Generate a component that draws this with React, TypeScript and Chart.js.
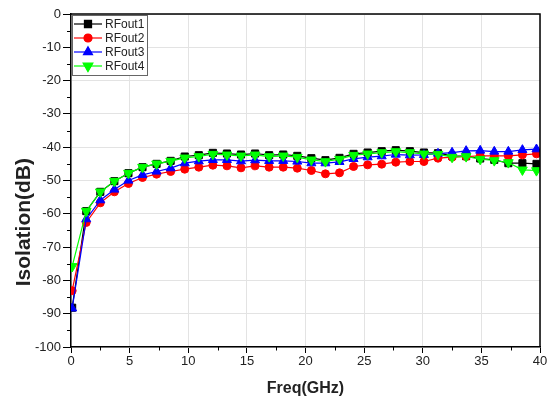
import React, { useEffect, useRef } from "react";
import { Chart, registerables } from "chart.js";
import { drawPoint } from "chart.js/helpers";

Chart.register(...registerables);

const freqGHz = [0.1, 1.3, 2.5, 3.7, 4.9, 6.1, 7.3, 8.5, 9.7, 10.9, 12.1, 13.3, 14.5, 15.7, 16.9, 18.1, 19.3, 20.5, 21.7, 22.9, 24.1, 25.3, 26.5, 27.7, 28.9, 30.1, 31.3, 32.5, 33.7, 34.9, 36.1, 37.3, 38.5, 39.7];

const rfout1 = [-88.2, -59.2, -53.4, -50.2, -47.8, -46, -45, -44.1, -42.8, -42.4, -41.7, -41.9, -42.2, -41.9, -42.4, -42.2, -42.6, -43.3, -43.9, -43.2, -42.0, -41.6, -41.2, -40.9, -41.2, -41.6, -41.8, -42.6, -42.7, -43.4, -43.8, -44.8, -44.8, -45];
const rfout2 = [-83.1, -62.6, -56.7, -53.4, -50.9, -49.1, -48.1, -47.3, -46.6, -46, -45.4, -45.6, -46.2, -45.6, -46, -46, -46.3, -47, -48, -47.7, -45.8, -45.3, -45.1, -44.5, -44.3, -44.3, -43.3, -43, -42.8, -42.6, -42.6, -42.6, -42.3, -42];
const rfout3 = [-88.4, -61.6, -55.9, -52.7, -50, -48.3, -47.3, -46.3, -44.8, -44.2, -43.8, -43.8, -44.2, -43.9, -44.1, -44.1, -44.3, -44.8, -44.8, -44.4, -43.5, -43, -42.7, -42.2, -42.4, -42.3, -41.9, -41.6, -41.1, -41, -41.3, -41.3, -40.8, -40.6];
const rfout4 = [-75.8, -59.2, -53.4, -50.2, -47.8, -46, -45, -44.2, -43.2, -42.8, -42.1, -42.3, -42.6, -42.3, -42.8, -42.6, -43, -43.8, -44.3, -43.6, -42.4, -42, -41.6, -41.3, -41.6, -42, -42.1, -43, -42.8, -43.6, -44, -44.6, -46.8, -47];

const seriesNames = ["RFout1", "RFout2", "RFout3", "RFout4"];
const seriesColors = ["#000000", "#ff0000", "#0000ff", "#00ff00"];
const seriesStyles = ["rect", "circle", "triangle", "triangle"];
const seriesRotation = [0, 0, 0, 180];
const seriesRadius = [5, 4, 5.2, 5.6];

const xMinorTicks = [2.5, 7.5, 12.5, 17.5, 22.5, 27.5, 32.5, 37.5];
const yMinorTicks = [-95, -85, -75, -65, -55, -45, -35, -25, -15, -5];

const FONT = "'Liberation Sans', Arial, sans-serif";

export default function App() {
  const ref = useRef<HTMLCanvasElement>(null);

  useEffect(() => {
    const canvas = ref.current;
    if (!canvas) return;
    const all = [rfout1, rfout2, rfout3, rfout4];

    const framePlugin = {
      id: "frameAndExtras",
      afterDatasetsDraw(chart: any) {
        const { ctx, chartArea, scales } = chart;
        ctx.save();
        ctx.strokeStyle = "#000";
        ctx.lineWidth = 1.5;
        ctx.beginPath();
        ctx.moveTo(chartArea.left, chartArea.top);
        ctx.lineTo(chartArea.right, chartArea.top);
        ctx.lineTo(chartArea.right, chartArea.bottom);
        ctx.stroke();
        ctx.lineWidth = 1;
        ctx.beginPath();
        xMinorTicks.forEach((v) => {
          const px = Math.round(scales.x.getPixelForValue(v)) + 0.5;
          ctx.moveTo(px, chartArea.bottom);
          ctx.lineTo(px, chartArea.bottom + 3.5);
        });
        yMinorTicks.forEach((v) => {
          const py = Math.round(scales.y.getPixelForValue(v)) + 0.5;
          ctx.moveTo(chartArea.left, py);
          ctx.lineTo(chartArea.left - 4, py);
        });
        ctx.stroke();
        ctx.restore();
      },
      afterDraw(chart: any) {
        const { ctx, chartArea, scales } = chart;
        ctx.save();
        ctx.fillStyle = "#222";
        ctx.font = `bold 21px ${FONT}`;
        ctx.textAlign = "center";
        ctx.textBaseline = "middle";
        ctx.translate(24, scales.y.getPixelForValue(-62.5));
        ctx.rotate(-Math.PI / 2);
        ctx.fillText("Isolation(dB)", 0, 0);
        ctx.restore();

        ctx.save();
        const bx = chartArea.left + 1;
        const by = chartArea.top + 1;
        const bw = 75;
        const bh = 60;
        ctx.fillStyle = "#fff";
        ctx.fillRect(bx, by, bw, bh);
        ctx.strokeStyle = "#666";
        ctx.lineWidth = 1;
        ctx.strokeRect(bx + 0.5, by + 0.5, bw, bh);
        ctx.font = `12px ${FONT}`;
        ctx.textBaseline = "middle";
        ctx.textAlign = "left";
        seriesNames.forEach((name, i) => {
          const y = by + 9 + i * 14;
          ctx.strokeStyle = seriesColors[i];
          ctx.lineWidth = 1.2;
          ctx.beginPath();
          ctx.moveTo(bx + 2, y);
          ctx.lineTo(bx + 30, y);
          ctx.stroke();
          ctx.fillStyle = seriesColors[i];
          drawPoint(ctx, { pointStyle: seriesStyles[i], radius: seriesRadius[i], rotation: seriesRotation[i], borderWidth: 1 } as any, bx + 16, y);
          ctx.fill();
          ctx.fillStyle = "#222";
          ctx.fillText(name, bx + 33, y + 0.5);
        });
        ctx.restore();
      },
    };

    const chart = new Chart(canvas, {
      type: "line",
      data: {
        datasets: seriesNames.map((name, i) => ({
          label: name,
          data: freqGHz.map((f, k) => ({ x: f, y: all[i][k] })),
          borderColor: seriesColors[i],
          backgroundColor: seriesColors[i],
          pointBackgroundColor: seriesColors[i],
          pointBorderColor: seriesColors[i],
          pointBorderWidth: 1,
          pointStyle: seriesStyles[i] as any,
          pointRotation: seriesRotation[i],
          pointRadius: seriesRadius[i],
          borderWidth: 1.2,
          tension: 0,
          fill: false,
          order: 4 - i,
        })),
      },
      options: {
        responsive: false,
        animation: false,
        layout: { padding: { left: 0, top: 14, right: 10, bottom: 0 } },
        plugins: {
          legend: { display: false },
          tooltip: { enabled: false },
        },
        scales: {
          x: {
            type: "linear",
            min: 0,
            max: 40,
            afterFit(scale: any) {
              scale.height = 50;
            },
            ticks: {
              stepSize: 5,
              padding: 1,
              color: "#222",
              font: { family: FONT, size: 13 },
              maxRotation: 0,
            },
            grid: {
              color: "#e3e3e3",
              lineWidth: 1,
              tickLength: 6,
              tickColor: "#000",
            },
            border: { display: true, color: "#000", width: 1.5 },
            title: {
              display: true,
              text: "Freq(GHz)",
              color: "#222",
              font: { family: FONT, size: 16, weight: "bold", lineHeight: 1 },
              padding: 0,
            },
          },
          y: {
            type: "linear",
            min: -100,
            max: 0,
            afterFit(scale: any) {
              scale.width = 71;
            },
            ticks: {
              stepSize: 10,
              padding: 2,
              color: "#222",
              font: { family: FONT, size: 13 },
            },
            grid: {
              color: "#e3e3e3",
              lineWidth: 1,
              tickLength: 8,
              tickColor: "#000",
            },
            border: { display: true, color: "#000", width: 1.5 },
          },
        },
      },
      plugins: [framePlugin],
    });

    return () => chart.destroy();
  }, []);

  return (
    <div style={{ position: "absolute", left: 0, top: 0, width: 550, height: 397, background: "#fff" }}>
      <canvas ref={ref} width={550} height={397} style={{ display: "block" }} />
    </div>
  );
}
